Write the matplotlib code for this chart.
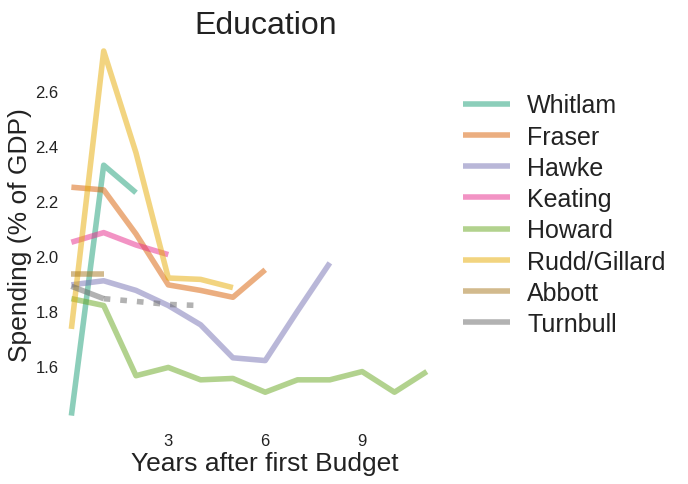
import matplotlib
matplotlib.use("Agg")
import matplotlib.pyplot as plt
import seaborn as sns

# spending on education, % of GDP, by year after each PM's first budget
leaders = ["Whitlam", "Fraser", "Hawke", "Keating", "Howard",
           "Rudd/Gillard", "Abbott", "Turnbull"]
whitlam = [1.42, 2.33, 2.23]
fraser = [2.25, 2.24, 2.08, 1.895, 1.875, 1.85, 1.95]
hawke = [1.895, 1.91, 1.875, 1.82, 1.75, 1.63, 1.62, 1.80, 1.975]
keating = [2.05, 2.085, 2.04, 2.005]
howard = [1.845, 1.82, 1.565, 1.595, 1.55, 1.555, 1.505, 1.55, 1.55,
          1.58, 1.505, 1.58]
rudd_gillard = [1.735, 2.745, 2.375, 1.92, 1.915, 1.885]
abbott = [1.935, 1.935]
turnbull = [1.89, 1.845]            # actual
turnbull_proj = [1.845, 1.835, 1.824, 1.82]  # forward estimates

series = [whitlam, fraser, hawke, keating, howard, rudd_gillard, abbott, turnbull]

sns.set_style("white")
plt.rcParams['font.family'] = ['Liberation Sans', 'DejaVu Sans']
colors = sns.color_palette("Dark2", 8)

fig = plt.figure(figsize=(6.88, 4.85), dpi=100)
ax = fig.add_axes([0.092, 0.124, 0.587, 0.783])

for name, vals, c in zip(leaders, series, colors):
    ax.plot(range(len(vals)), vals, color=c, alpha=0.5, lw=4, label=name,
            solid_capstyle="butt")

#projection part of Turnbull is dashed
ax.plot(range(1, 1 + len(turnbull_proj)), turnbull_proj, color=colors[7],
        alpha=0.5, lw=4, dashes=(1.2, 1.8), dash_capstyle="butt")

ax.set_xlim(-0.25, 12.25)
ax.set_ylim(1.39, 2.77)
ax.set_xticks([3, 6, 9])
ax.set_yticks([1.6, 1.8, 2.0, 2.2, 2.4, 2.6])
ax.tick_params(labelsize=12, colors="#222222", pad=3)
ax.tick_params(axis="y", pad=0)
for s in ax.spines.values():
    s.set_visible(False)

ax.set_title("Education", fontsize=23, color="#222222", pad=8)
ax.set_xlabel("Years after first Budget", fontsize=19, color="#222222",
              labelpad=2)
ax.set_ylabel("Spending (% of GDP)", fontsize=19, color="#222222",
              labelpad=2)

leg = ax.legend(loc="upper left", bbox_to_anchor=(0.64, 0.852),
                bbox_transform=fig.transFigure, frameon=False, fontsize=18,
                handlelength=1.9, handletextpad=0.68, labelspacing=0.29)
for t in leg.get_texts():
    t.set_color("#222222")

fig.savefig("out.png", dpi=100)
